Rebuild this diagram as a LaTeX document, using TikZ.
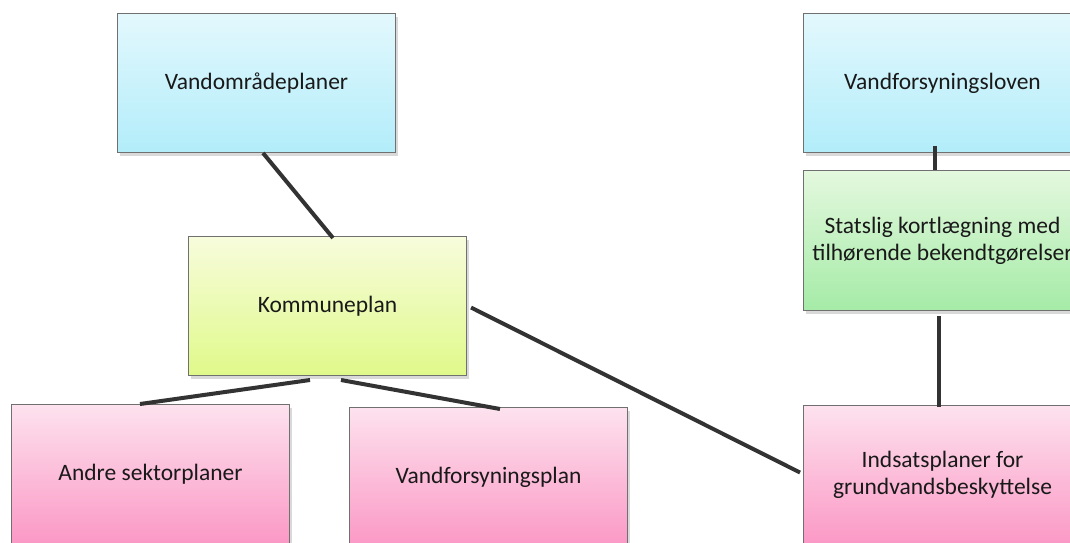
\documentclass[tikz,border=0pt]{standalone}
\usepackage{fontspec}
\setmainfont{Carlito}
\usetikzlibrary{shadows,calc}
\definecolor{bluetop}{HTML}{E3F8FD}
\definecolor{bluebot}{HTML}{B2EDFA}
\definecolor{limetop}{HTML}{F7FCDC}
\definecolor{limebot}{HTML}{E0F98A}
\definecolor{greentop}{HTML}{E4F8DE}
\definecolor{greenbot}{HTML}{A5EBA7}
\definecolor{pinktop}{HTML}{FDE2EE}
\definecolor{pinkbot}{HTML}{FB98C5}
\definecolor{edgegray}{HTML}{707070}
\definecolor{linegray}{HTML}{333333}
\tikzset{
  box/.style={draw=edgegray, line width=1pt, anchor=north west,
    minimum width=278pt, minimum height=139pt, inner sep=0pt,
    align=center, font=\fontsize{23.5}{27}\selectfont, text=black!90,
    drop shadow={opacity=0.3, shadow xshift=2pt, shadow yshift=-3pt}},
  bluebox/.style={box, top color=bluetop, bottom color=bluebot},
  limebox/.style={box, top color=limetop, bottom color=limebot},
  greenbox/.style={box, top color=greentop, bottom color=greenbot},
  pinkbox/.style={box, top color=pinktop, bottom color=pinkbot},
  conn/.style={draw=linegray, line width=4pt}
}
\begin{document}
\begin{tikzpicture}[x=1pt,y=-1pt]
\useasboundingbox (0,0) rectangle (1070,542);
\clip (0,0) rectangle (1070,542);
\node[bluebox] (vo) at (117,13) {Vandområdeplaner};
\node[bluebox] (vl) at (803,13) {Vandforsyningsloven};
\node[greenbox, minimum height=140pt] (st) at (803,170) {Statslig kortlægning med\\tilhørende bekendtgørelser};
\node[limebox] (km) at (188,236) {Kommuneplan};
\node[pinkbox] (an) at (11,404) {Andre sektorplaner};
\node[pinkbox] (vp) at (349,407) {Vandforsyningsplan};
\node[pinkbox] (ind) at (803,405) {Indsatsplaner for\\grundvandsbeskyttelse};
\draw[conn] ([xshift=146pt]vo.south west) -- ([xshift=145pt,yshift=-2pt]km.north west);
\draw[conn] ([xshift=132pt,yshift=7pt]vl.south west) -- ([xshift=132pt]st.north west);
\draw[conn] ([xshift=136pt,yshift=-5pt]st.south west) -- ([xshift=136pt,yshift=-2pt]ind.north west);
\draw[conn] ([xshift=4pt,yshift=-1.5pt]km.east) -- ([xshift=-3pt,yshift=2.5pt]ind.west);
\draw[conn] ([xshift=122pt,yshift=-4pt]km.south west) -- ([xshift=129pt]an.north west);
\draw[conn] ([xshift=153pt,yshift=-4pt]km.south west) -- ([xshift=151pt,yshift=-2pt]vp.north west);
\end{tikzpicture}
\end{document}
